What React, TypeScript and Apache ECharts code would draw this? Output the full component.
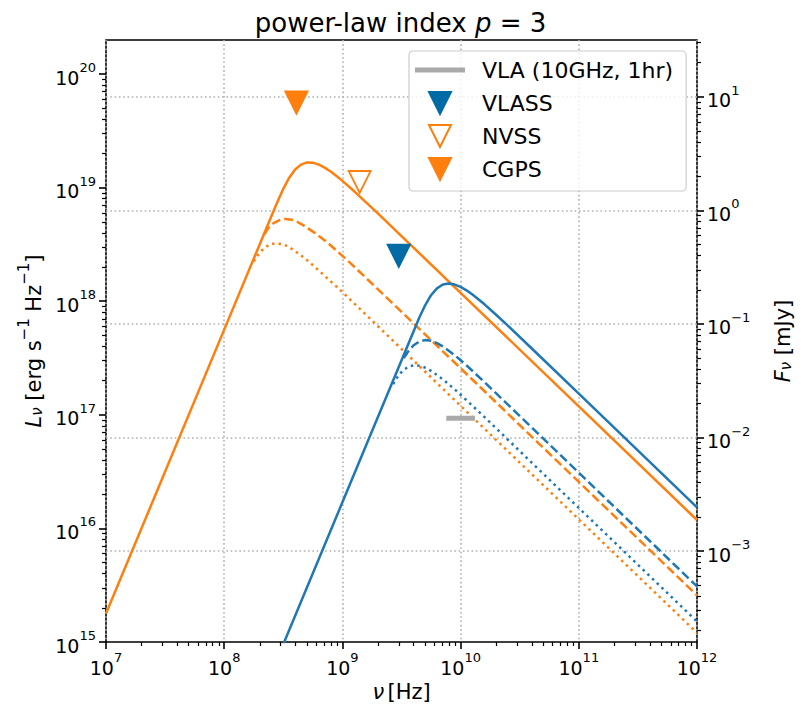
import React, { useEffect, useRef } from 'react';
import * as echarts from 'echarts';

// All curve points are [log10 ν (Hz), log10 Lν (erg s^-1 Hz^-1)].
const orangeSolid: [number, number][] = [
  [7.0, 15.25], [8.0, 17.75], [8.3, 18.5], [8.4, 18.75], [8.45, 18.873], [8.5, 18.99],
  [8.55, 19.088], [8.6, 19.16], [8.65, 19.203], [8.7, 19.222], [8.75, 19.22], [8.8, 19.203],
  [8.85, 19.176], [8.9, 19.142], [8.95, 19.103], [9.0, 19.06], [9.1, 18.968], [9.2, 18.871],
  [9.3, 18.773], [9.5, 18.574], [10, 18.074], [11, 17.074], [12, 16.074],
];
const orangeDashed: [number, number][] = [
  [8.34, 18.59], [8.37, 18.64], [8.42, 18.69], [8.47, 18.715], [8.52, 18.725], [8.57, 18.718],
  [8.62, 18.698], [8.67, 18.668], [8.77, 18.6], [8.87, 18.52], [9.07, 18.334], [10, 17.41],
  [11, 16.41], [12, 15.41],
];
const orangeDotted: [number, number][] = [
  [8.25, 18.35], [8.28, 18.4], [8.33, 18.46], [8.38, 18.497], [8.43, 18.51], [8.48, 18.505],
  [8.53, 18.487], [8.58, 18.457], [8.68, 18.38], [8.78, 18.29], [8.98, 18.1], [10, 17.08],
  [11, 16.08], [12, 15.08],
];
const blueSolid: [number, number][] = [
  [8.5, 14.98], [9.0, 16.23], [9.4, 17.23], [9.6, 17.73], [9.65, 17.854], [9.7, 17.964],
  [9.75, 18.053], [9.8, 18.113], [9.85, 18.147], [9.9, 18.156], [9.95, 18.147], [10.0, 18.126],
  [10.05, 18.096], [10.1, 18.059], [10.15, 18.018], [10.2, 17.975], [10.3, 17.881], [10.4, 17.785],
  [10.6, 17.586], [11, 17.186], [12, 16.186],
];
const blueDashed: [number, number][] = [
  [9.52, 17.5], [9.55, 17.55], [9.6, 17.61], [9.65, 17.645], [9.7, 17.658], [9.75, 17.652],
  [9.8, 17.632], [9.85, 17.602], [9.95, 17.525], [10.05, 17.436], [10.25, 17.24], [11, 16.49],
  [12, 15.49],
];
const blueDotted: [number, number][] = [
  [9.43, 17.27], [9.46, 17.325], [9.51, 17.39], [9.56, 17.425], [9.61, 17.437], [9.66, 17.431],
  [9.71, 17.411], [9.76, 17.381], [9.86, 17.304], [9.96, 17.215], [10.16, 17.022], [11, 16.18],
  [12, 15.18],
];

// Survey upper limits and the VLA sensitivity bar (same log10 units).
const vlassLimit: [number, number][] = [[9.477, 18.4]];
const nvssLimit: [number, number][] = [[9.146, 19.05]];
const cgpsLimit: [number, number][] = [[8.611, 19.75]];
const vlaSensitivity: [number, number][] = [[9.9, 16.97], [10.1, 16.97]];

// Axis ranges and tick exponents.
const xRange: [number, number] = [7, 12];
const lumRange: [number, number] = [15, 20.3];
const fluxRange: [number, number] = [-3.8, 1.5];
const xMajor = [7, 8, 9, 10, 11, 12];
const lumMajor = [15, 16, 17, 18, 19, 20];
const fluxMajor = [-3, -2, -1, 0, 1];

const ORANGE = '#ff7f0e';
const BLUE = '#1f77b4';
const VLASS_BLUE = '#006ba4';
const GRAY = '#a9a9a9';
const FONT = 'DejaVu Sans';
const DOWN_TRIANGLE = 'path://M0,0 L2,0 L1,2 Z';
const BAR_ICON = 'path://M0,0 L10,0 L10,1 L0,1 Z';

function minorTicks(lo: number, hi: number): number[] {
  const out: number[] = [];
  for (let n = Math.floor(lo) - 1; n <= Math.ceil(hi); n++) {
    for (let k = 2; k <= 9; k++) {
      const v = n + Math.log10(k);
      if (v >= lo - 1e-9 && v <= hi + 1e-9) out.push(v);
    }
  }
  return out;
}

const expText = (v: number) => {
  const n = Math.round(v);
  return n < 0 ? '\u2212' + Math.abs(n) : String(n);
};

const tickRich = {
  b: { fontSize: 19, fontFamily: FONT, color: '#000', lineHeight: 26, verticalAlign: 'bottom' as const },
  e: { fontSize: 13, fontFamily: FONT, color: '#000', lineHeight: 14, verticalAlign: 'top' as const },
};

const nameRich = {
  t: { fontSize: 21, fontFamily: FONT, color: '#000', lineHeight: 28, verticalAlign: 'bottom' as const },
  i: { fontSize: 21, fontFamily: FONT, fontStyle: 'italic' as const, color: '#000', lineHeight: 28, verticalAlign: 'bottom' as const },
  s: { fontSize: 15, fontFamily: FONT, fontStyle: 'italic' as const, color: '#000', lineHeight: 23, verticalAlign: 'bottom' as const },
  u: { fontSize: 15, fontFamily: FONT, color: '#000', lineHeight: 19, verticalAlign: 'top' as const },
};

const majorTickStyle = { color: '#000', width: 1.6 };
const minorTickStyle = { color: '#000', width: 1.2 };
const gridLine = { show: true, lineStyle: { color: '#b0b0b0', width: 1.6, type: [1.6, 2.7] } };
const hiddenLine = { show: false, onZero: false };

function curve(data: [number, number][], color: string, type: any) {
  return {
    type: 'line',
    data,
    xAxisIndex: 0,
    yAxisIndex: 0,
    symbol: 'none',
    silent: true,
    lineStyle: { color, width: 2.5, type, join: 'round' },
    z: 2,
  };
}

function limit(name: string, data: [number, number][], fill: string, stroke: string, bw: number) {
  return {
    type: 'scatter',
    name,
    data,
    xAxisIndex: 0,
    yAxisIndex: 0,
    symbol: DOWN_TRIANGLE,
    symbolSize: 22,
    itemStyle: { color: fill, borderColor: stroke, borderWidth: bw, opacity: 1 },
    z: 4,
  };
}

const option: any = {
  animation: false,
  backgroundColor: '#fff',
  title: {
    text: '{a|power-law index }{i|p}{a| = 3}',
    left: 'center',
    top: 3,
    textStyle: {
      fontWeight: 'normal',
      rich: {
        a: { fontSize: 26, fontFamily: FONT, fontWeight: 'normal', color: '#000', lineHeight: 30 },
        i: { fontSize: 26, fontFamily: FONT, fontWeight: 'normal', fontStyle: 'italic', color: '#000', lineHeight: 30 },
      },
    },
  },
  grid: {
    left: 106,
    right: 104,
    top: 40,
    bottom: 63,
    show: true,
    borderColor: '#000',
    borderWidth: 1.6,
    backgroundColor: 'transparent',
    outerBoundsMode: 'none',
    containLabel: false,
  },
  legend: {
    orient: 'vertical',
    left: 409,
    top: 51,
    itemWidth: 50,
    itemHeight: 22,
    itemGap: 9,
    padding: [7, 13, 10, 6],
    backgroundColor: 'rgba(255,255,255,0.8)',
    borderColor: '#cccccc',
    borderWidth: 1.2,
    borderRadius: 4,
    textStyle: { fontSize: 22, fontFamily: FONT, color: '#000', lineHeight: 24, padding: [0, 0, 0, 12] },
    data: [
      { name: 'VLA (10GHz, 1hr)', icon: BAR_ICON, itemStyle: { color: GRAY, borderWidth: 0 } },
      { name: 'VLASS' },
      { name: 'NVSS' },
      { name: 'CGPS' },
    ],
  },
  xAxis: [
    {
      type: 'value',
      min: xRange[0],
      max: xRange[1],
      interval: 1,
      position: 'bottom',
      name: '{i|ν} {t|[Hz]}',
      nameLocation: 'middle',
      nameGap: 29,
      nameTextStyle: { rich: nameRich },
      axisLine: hiddenLine,
      axisTick: { show: true, length: 7, lineStyle: majorTickStyle, customValues: xMajor },
      axisLabel: {
        customValues: xMajor,
        margin: 9,
        formatter: (v: number) => `{b|10}{e|${expText(v)}}`,
        rich: tickRich,
      },
      splitLine: gridLine,
    },
    {
      type: 'value',
      min: xRange[0],
      max: xRange[1],
      position: 'bottom',
      axisLine: hiddenLine,
      axisTick: { show: true, length: 4, lineStyle: minorTickStyle, customValues: minorTicks(xRange[0], xRange[1]) },
      axisLabel: { show: false },
      splitLine: { show: false },
    },
  ],
  yAxis: [
    {
      type: 'value',
      min: lumRange[0],
      max: lumRange[1],
      position: 'left',
      name: '{i|L}{s|ν}{t| [erg s}{u|\u22121}{t| Hz}{u|\u22121}{t|]}',
      nameLocation: 'middle',
      nameGap: 55,
      nameRotate: 90,
      nameTextStyle: { rich: nameRich },
      axisLine: hiddenLine,
      axisTick: { show: true, length: 7, lineStyle: majorTickStyle, customValues: lumMajor },
      axisLabel: {
        customValues: lumMajor,
        margin: 10,
        formatter: (v: number) => `{b|10}{e|${expText(v)}}`,
        rich: tickRich,
      },
      splitLine: { show: false },
    },
    {
      type: 'value',
      min: fluxRange[0],
      max: fluxRange[1],
      position: 'right',
      name: '{i|F}{s|ν}{t| [mJy]}',
      nameLocation: 'middle',
      nameGap: 68,
      nameRotate: 90,
      nameTextStyle: { rich: nameRich },
      axisLine: hiddenLine,
      axisTick: { show: true, length: 7, lineStyle: majorTickStyle, customValues: fluxMajor },
      axisLabel: {
        customValues: fluxMajor,
        margin: 10,
        formatter: (v: number) => `{b|10}{e|${expText(v)}}`,
        rich: tickRich,
      },
      splitLine: gridLine,
    },
    {
      type: 'value',
      min: lumRange[0],
      max: lumRange[1],
      position: 'left',
      axisLine: hiddenLine,
      axisTick: { show: true, length: 4, lineStyle: minorTickStyle, customValues: minorTicks(lumRange[0], lumRange[1]) },
      axisLabel: { show: false },
      splitLine: { show: false },
    },
    {
      type: 'value',
      min: fluxRange[0],
      max: fluxRange[1],
      position: 'right',
      axisLine: hiddenLine,
      axisTick: { show: true, length: 4, lineStyle: minorTickStyle, customValues: minorTicks(fluxRange[0], fluxRange[1]) },
      axisLabel: { show: false },
      splitLine: { show: false },
    },
  ],
  series: [
    curve(orangeSolid, ORANGE, 'solid'),
    curve(orangeDashed, ORANGE, [9, 4]),
    curve(orangeDotted, ORANGE, [2.5, 4]),
    curve(blueSolid, BLUE, 'solid'),
    curve(blueDashed, BLUE, [9, 4]),
    curve(blueDotted, BLUE, [2.5, 4]),
    {
      type: 'line',
      name: 'VLA (10GHz, 1hr)',
      data: vlaSensitivity,
      xAxisIndex: 0,
      yAxisIndex: 0,
      symbol: 'none',
      lineStyle: { color: GRAY, width: 5, cap: 'square' },
      itemStyle: { color: GRAY },
      z: 3,
    },
    limit('VLASS', vlassLimit, VLASS_BLUE, VLASS_BLUE, 2),
    limit('NVSS', nvssLimit, 'rgba(255,255,255,0)', ORANGE, 1.8),
    limit('CGPS', cgpsLimit, ORANGE, ORANGE, 2),
  ],
};

export default function App() {
  const ref = useRef<HTMLDivElement>(null);
  useEffect(() => {
    if (!ref.current) return;
    const chart = echarts.init(ref.current, null, { renderer: 'svg' });
    chart.setOption(option);
    return () => chart.dispose();
  }, []);
  return (
    <div
      ref={ref}
      style={{ position: 'absolute', left: 0, top: 0, width: 801, height: 705, background: '#fff' }}
    />
  );
}
